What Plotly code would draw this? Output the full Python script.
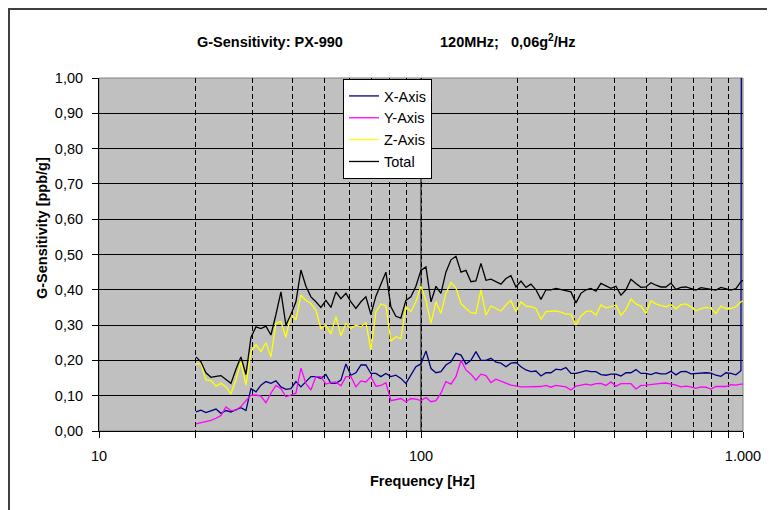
import plotly.graph_objects as go

freq_hz = [20.0, 20.73, 21.48, 22.27, 23.08, 23.92, 24.79, 25.69, 26.63, 27.59,
           28.60, 29.64, 30.72, 31.83, 32.99, 34.19, 35.44, 36.73, 38.06, 39.45,
           40.88, 42.37, 43.91, 45.51, 47.17, 48.88, 50.66, 52.51, 54.42, 56.40,
           58.45, 60.58, 62.78, 65.07, 67.43, 69.89, 72.43, 75.07, 77.80, 80.63,
           83.56, 86.60, 89.76, 93.02, 96.41, 99.95, 103.6, 107.4, 111.3, 115.3,
           119.5, 123.9, 128.4, 133.1, 137.9, 142.9, 148.1, 153.5, 159.1, 164.9,
           170.9, 177.1, 183.6, 190.2, 197.2, 204.4, 211.8, 219.5, 227.5, 235.8,
           244.4, 253.3, 262.5, 272.0, 281.9, 292.2, 302.8, 313.8, 325.3, 337.1,
           349.4, 362.1, 375.3, 388.9, 403.1, 417.8, 433.0, 448.7, 465.1, 482.0,
           499.5, 517.7, 536.5, 556.1, 576.3, 597.3, 619.0, 641.6, 664.9, 689.1,
           714.2, 740.2, 767.1, 795.1, 824.0, 854.0, 885.1, 917.3, 950.7, 985.3,
           1000.0]

x_axis = [0.054, 0.059, 0.052, 0.057, 0.062, 0.05, 0.058, 0.054, 0.059, 0.066,
          0.058, 0.12, 0.111, 0.13, 0.14, 0.135, 0.142, 0.125, 0.118, 0.12,
          0.14, 0.125, 0.14, 0.154, 0.154, 0.149, 0.16,
          0.135, 0.135, 0.144, 0.19, 0.158, 0.165, 0.187, 0.187, 0.163, 0.163,
          0.154, 0.163, 0.154, 0.158, 0.149, 0.135, 0.158, 0.182, 0.19, 0.227,
          0.177, 0.165, 0.168, 0.187, 0.196, 0.22, 0.215, 0.19, 0.2, 0.225,
          0.2, 0.2, 0.206, 0.195, 0.192, 0.182, 0.192, 0.194, 0.182, 0.173,
          0.168, 0.17, 0.156, 0.165, 0.165, 0.175, 0.173, 0.18, 0.163, 0.163,
          0.167, 0.171, 0.168, 0.168, 0.16, 0.158, 0.161, 0.161, 0.156, 0.165,
          0.165, 0.174, 0.163, 0.163, 0.16, 0.165, 0.162, 0.162, 0.169, 0.159,
          0.168, 0.169, 0.162, 0.163, 0.165, 0.165, 0.164, 0.158, 0.155, 0.165,
          0.163, 0.159, 0.171, 5.0]

y_axis = [0.02, 0.023, 0.025, 0.03, 0.036, 0.044, 0.068, 0.058, 0.059, 0.069,
          0.086, 0.101, 0.102, 0.099, 0.08, 0.107, 0.129, 0.12, 0.097, 0.103,
          0.107, 0.178, 0.135, 0.116, 0.154, 0.154, 0.133,
          0.137, 0.139, 0.128, 0.154, 0.154, 0.125, 0.142, 0.139, 0.154, 0.127,
          0.129, 0.137, 0.086, 0.09, 0.092, 0.083, 0.092, 0.09, 0.086, 0.095,
          0.083, 0.086, 0.107, 0.14, 0.133, 0.154, 0.2, 0.173, 0.161, 0.144,
          0.161, 0.157, 0.137, 0.147, 0.141, 0.135, 0.13, 0.128, 0.125, 0.125,
          0.125, 0.124, 0.126, 0.129, 0.124, 0.129, 0.128, 0.125, 0.116, 0.127,
          0.13, 0.133, 0.13, 0.134, 0.135, 0.129, 0.139, 0.127, 0.134, 0.135,
          0.134, 0.119, 0.129, 0.13, 0.132, 0.135, 0.135, 0.136, 0.134, 0.13,
          0.125, 0.127, 0.125, 0.121, 0.125, 0.124, 0.119, 0.126, 0.126, 0.126,
          0.131, 0.13, 0.133, 0.133]

z_axis = [0.19, 0.19, 0.145, 0.143, 0.127, 0.135, 0.125, 0.105, 0.145, 0.196,
          0.13, 0.225, 0.245, 0.225, 0.25, 0.21, 0.305, 0.31, 0.265, 0.33,
          0.315, 0.385, 0.37, 0.361, 0.342, 0.29, 0.3,
          0.275, 0.324, 0.27, 0.305, 0.29, 0.3, 0.295, 0.307, 0.23, 0.338,
          0.36, 0.355, 0.255, 0.267, 0.262, 0.352, 0.338, 0.366, 0.41, 0.37,
          0.305, 0.366, 0.333, 0.39, 0.42, 0.405, 0.361, 0.347, 0.335, 0.333,
          0.4, 0.328, 0.354, 0.347, 0.34, 0.357, 0.37, 0.338, 0.366, 0.354,
          0.352, 0.347, 0.316, 0.338, 0.34, 0.34, 0.337, 0.331, 0.331, 0.3,
          0.325, 0.338, 0.34, 0.328, 0.357, 0.349, 0.352, 0.357, 0.328, 0.344,
          0.374, 0.36, 0.354, 0.333, 0.369, 0.36, 0.355, 0.352, 0.358, 0.346,
          0.358, 0.36, 0.352, 0.34, 0.347, 0.35, 0.348, 0.333, 0.354, 0.347,
          0.347, 0.352, 0.366, 0.369]

total = [0.21, 0.196, 0.165, 0.152, 0.155, 0.157, 0.146, 0.135, 0.175, 0.21,
         0.16, 0.265, 0.295, 0.29, 0.297, 0.272, 0.33, 0.394, 0.30, 0.33,
         0.366, 0.456, 0.41, 0.38, 0.366, 0.35, 0.37,
         0.35, 0.394, 0.375, 0.39, 0.366, 0.347, 0.366, 0.38, 0.33, 0.382,
         0.418, 0.45, 0.352, 0.325, 0.32, 0.37, 0.38, 0.41, 0.455, 0.465,
         0.366, 0.41, 0.39, 0.45, 0.485, 0.495, 0.45, 0.455, 0.423, 0.425,
         0.475, 0.427, 0.43, 0.423, 0.416, 0.432, 0.44, 0.408, 0.425, 0.407,
         0.416, 0.4, 0.373, 0.4, 0.4, 0.404, 0.4, 0.397, 0.394, 0.363,
         0.39, 0.4, 0.404, 0.396, 0.418, 0.411, 0.404, 0.41, 0.385, 0.4,
         0.43, 0.418, 0.407, 0.408, 0.42, 0.413, 0.408, 0.408, 0.419, 0.401,
         0.407, 0.408, 0.404, 0.399, 0.406, 0.404, 0.402, 0.399, 0.407, 0.403,
         0.399, 0.403, 0.423, 0.427]

series_names = ["X-Axis", "Y-Axis", "Z-Axis", "Total"]
series_colors = ["#000080", "#FF00FF", "#FFFF00", "#000000"]
series_values = [x_axis, y_axis, z_axis, total]

x_tickvals = [10, 20, 30, 40, 50, 60, 70, 80, 90,
              100, 200, 300, 400, 500, 600, 700, 800, 900, 1000]
x_ticktext = ["10", "", "", "", "", "", "", "", "",
              "100", "", "", "", "", "", "", "", "", "1.000"]
y_tickvals = [0.0, 0.1, 0.2, 0.3, 0.4, 0.5, 0.6, 0.7, 0.8, 0.9, 1.0]

FONT = "Arial, 'Liberation Sans', sans-serif"
FS = 14.5
# the page body adds an 8px offset; target plot area in page pixels
OFF = 8
PL, PR, PT, PB = 99, 743, 78, 431
W, H = 775 - OFF, 510 - OFF
L, T = PL - OFF, PT - OFF
R, B = W - (PR - OFF), H - (PB - OFF)
PW, PH = PR - PL, PB - PT


def px(xp):
    return (xp - PL) / PW


def py(yp):
    return (PB - yp) / PH


fig = go.Figure()
for name, color, vals in zip(series_names, series_colors, series_values):
    fig.add_trace(go.Scatter(x=freq_hz, y=vals, mode="lines", name=name,
                             legendgroup=name,
                             line=dict(color=color, width=1.3)))

shapes = []
# solid gridline at the decade inside the range
for v, t in zip(x_tickvals, x_ticktext):
    if t and 10 < v < 1000:
        shapes.append(dict(type="line", xref="x", yref="paper", x0=v, x1=v,
                           y0=0, y1=1, line=dict(color="black", width=1),
                           layer="between"))
# plot-area border (top/right gray)
shapes.append(dict(type="rect", xref="paper", yref="paper", x0=0, x1=1, y0=0, y1=1,
                   line=dict(color="#808080", width=1), layer="between"))
# outer chart frame
shapes.append(dict(type="rect", xref="paper", yref="paper",
                   x0=px(OFF + 1), x1=px(800), y0=py(540), y1=py(OFF + 1),
                   line=dict(color="#404040", width=2), layer="above"))

annotations = [
    dict(text="<b>G-Sensitivity: PX-990</b>", x=px(195), y=py(42), xref="paper",
         yref="paper", xanchor="left", yanchor="middle", showarrow=False,
         font=dict(family=FONT, size=FS, color="black")),
    dict(text="<b>120MHz;</b>", x=px(438), y=py(42), xref="paper",
         yref="paper", xanchor="left", yanchor="middle", showarrow=False,
         font=dict(family=FONT, size=FS, color="black")),
    dict(text="<b>0,06g<sup>2</sup>/Hz</b>", x=px(509), y=py(41), xref="paper",
         yref="paper", xanchor="left", yanchor="middle", showarrow=False,
         font=dict(family=FONT, size=FS, color="black")),
    dict(text="<b>G-Sensitivity [ppb/g]</b>", x=px(42), y=py(228), xref="paper",
         yref="paper", xanchor="center", yanchor="middle", showarrow=False,
         textangle=-90, font=dict(family=FONT, size=FS, color="black")),
    dict(text="<b>Frequency [Hz]</b>", x=px(422), y=py(481), xref="paper",
         yref="paper", xanchor="center", yanchor="middle", showarrow=False,
         font=dict(family=FONT, size=FS, color="black")),
]

fig.update_layout(
    width=W, height=H,
    margin=dict(l=L, r=R, t=T, b=B, pad=0),
    paper_bgcolor="white",
    plot_bgcolor="#C0C0C0",
    separators=",.",
    font=dict(family=FONT, size=FS, color="black"),
    showlegend=True,
    legend=dict(x=px(343), y=py(79), xanchor="left", yanchor="top",
                bgcolor="white", bordercolor="black", borderwidth=1,
                font=dict(family=FONT, size=FS, color="black"),
                tracegroupgap=0, itemwidth=30),
    xaxis=dict(type="log", range=[1, 3], tickvals=x_tickvals, ticktext=x_ticktext,
               tickangle=0,
               showgrid=True, gridcolor="black", gridwidth=1, griddash="5px,3px",
               showline=True, linecolor="black", linewidth=1,
               ticks="outside", ticklen=6, tickcolor="black", tickwidth=1,
               ticklabelstandoff=6, zeroline=False),
    yaxis=dict(range=[0, 1], tickvals=y_tickvals, tickformat=".2f",
               showgrid=True, gridcolor="black", gridwidth=1,
               showline=True, linecolor="black", linewidth=1,
               ticks="outside", ticklen=6, tickcolor="black", tickwidth=1,
               ticklabelstandoff=6, zeroline=False),
    shapes=shapes,
    annotations=annotations,
)

fig.write_html("out.html")
